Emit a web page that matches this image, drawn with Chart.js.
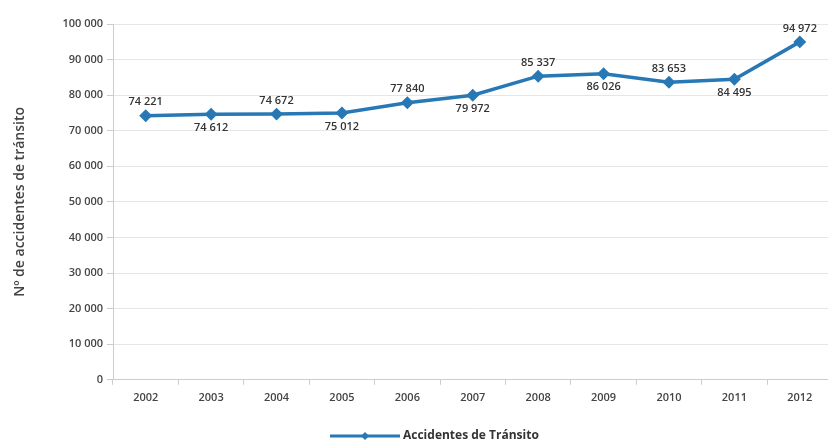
<!DOCTYPE html>
<html>
<head>
<meta charset="utf-8">
<script src="https://cdn.jsdelivr.net/npm/chart.js@4/dist/chart.umd.min.js"></script>
<style>
  html, body { margin: 0; padding: 0; background: #fff; overflow: hidden; }
  #wrap { width: 828px; height: 448px; overflow: hidden; }
</style>
</head>
<body>
<div id="wrap"><canvas id="chartAccidentes" width="840" height="448"></canvas></div>
<script>
var years = ['2002', '2003', '2004', '2005', '2006', '2007', '2008', '2009', '2010', '2011', '2012'];
var accidentes = [74221, 74612, 74672, 75012, 77840, 79972, 85337, 86026, 83653, 84495, 94972];
// etiqueta arriba (true) o abajo (false) del punto
var labelAbove = [true, false, true, false, true, false, true, false, true, false, true];
var seriesName = 'Accidentes de Tránsito';
var yTitle = 'Nº de accidentes de tránsito';

var lineColor = '#2778b4';
var fontFam = '"Open Sans", "DejaVu Sans", sans-serif';

function conEspacios(v) {
    return String(v).replace(/\B(?=(\d{3})+(?!\d))/g, ' ');
}

// etiquetas de valor sobre/bajo cada punto
var etiquetas = {
    id: 'etiquetas',
    afterDatasetsDraw: function(chart) {
        var ctx = chart.ctx;
        var meta = chart.getDatasetMeta(0);
        ctx.save();
        ctx.font = '600 11px ' + fontFam;
        ctx.fillStyle = '#333';
        ctx.textAlign = 'center';
        meta.data.forEach(function(pt, i) {
            var txt = conEspacios(accidentes[i]);
            if (labelAbove[i]) {
                ctx.textBaseline = 'bottom';
                ctx.fillText(txt, pt.x, pt.y - 8);
            } else {
                ctx.textBaseline = 'top';
                ctx.fillText(txt, pt.x, pt.y + 8);
            }
        });
        ctx.restore();
    }
};

// leyenda propia con linea y rombo
var leyenda = {
    id: 'leyenda',
    afterDraw: function(chart) {
        var ctx = chart.ctx;
        var y = 436;
        ctx.save();
        ctx.strokeStyle = lineColor;
        ctx.lineWidth = 3;
        ctx.beginPath();
        ctx.moveTo(330, y);
        ctx.lineTo(400, y);
        ctx.stroke();
        ctx.fillStyle = lineColor;
        ctx.beginPath();
        ctx.moveTo(365, y - 4);
        ctx.lineTo(369, y);
        ctx.lineTo(365, y + 4);
        ctx.lineTo(361, y);
        ctx.closePath();
        ctx.fill();
        ctx.font = 'bold 12px ' + fontFam;
        ctx.fillStyle = '#333';
        ctx.textAlign = 'left';
        ctx.textBaseline = 'middle';
        ctx.fillText(seriesName, 403, y);
        ctx.restore();
    }
};

var ctxAcc = document.getElementById('chartAccidentes').getContext('2d');
var chartAcc = new Chart(ctxAcc, {
    type: 'line',
    data: {
        labels: years,
        datasets: [{
            label: seriesName,
            data: accidentes,
            borderColor: lineColor,
            backgroundColor: lineColor,
            borderWidth: 3.5,
            pointStyle: 'rectRot',
            pointRadius: 4,
            pointHoverRadius: 4,
            tension: 0
        }]
    },
    options: {
        responsive: false,
        animation: false,
        layout: { padding: { top: 24, right: 0, bottom: 38, left: 12 } },
        scales: {
            x: {
                offset: true,
                grid: { offset: true, drawOnChartArea: false, color: '#ccc', tickLength: 5 },
                border: { color: '#ccc' },
                ticks: { color: '#444', font: { family: fontFam, size: 11, weight: '600' }, padding: 6 }
            },
            y: {
                min: 0,
                max: 100000,
                afterFit: function(scale) { scale.width = 101; },
                grid: { color: '#e6e6e6', tickLength: 6, tickColor: '#ccc' },
                border: { color: '#ccc' },
                ticks: {
                    stepSize: 10000,
                    color: '#444',
                    font: { family: fontFam, size: 11, weight: '600' },
                    padding: 4,
                    callback: function(v) { return conEspacios(v); }
                },
                title: {
                    display: true,
                    text: yTitle,
                    color: '#444',
                    font: { family: fontFam, size: 14, weight: '600' },
                    padding: { top: 0, bottom: 4 }
                }
            }
        },
        plugins: {
            legend: { display: false },
            tooltip: { enabled: false }
        }
    },
    plugins: [etiquetas, leyenda]
});
</script>
</body>
</html>
